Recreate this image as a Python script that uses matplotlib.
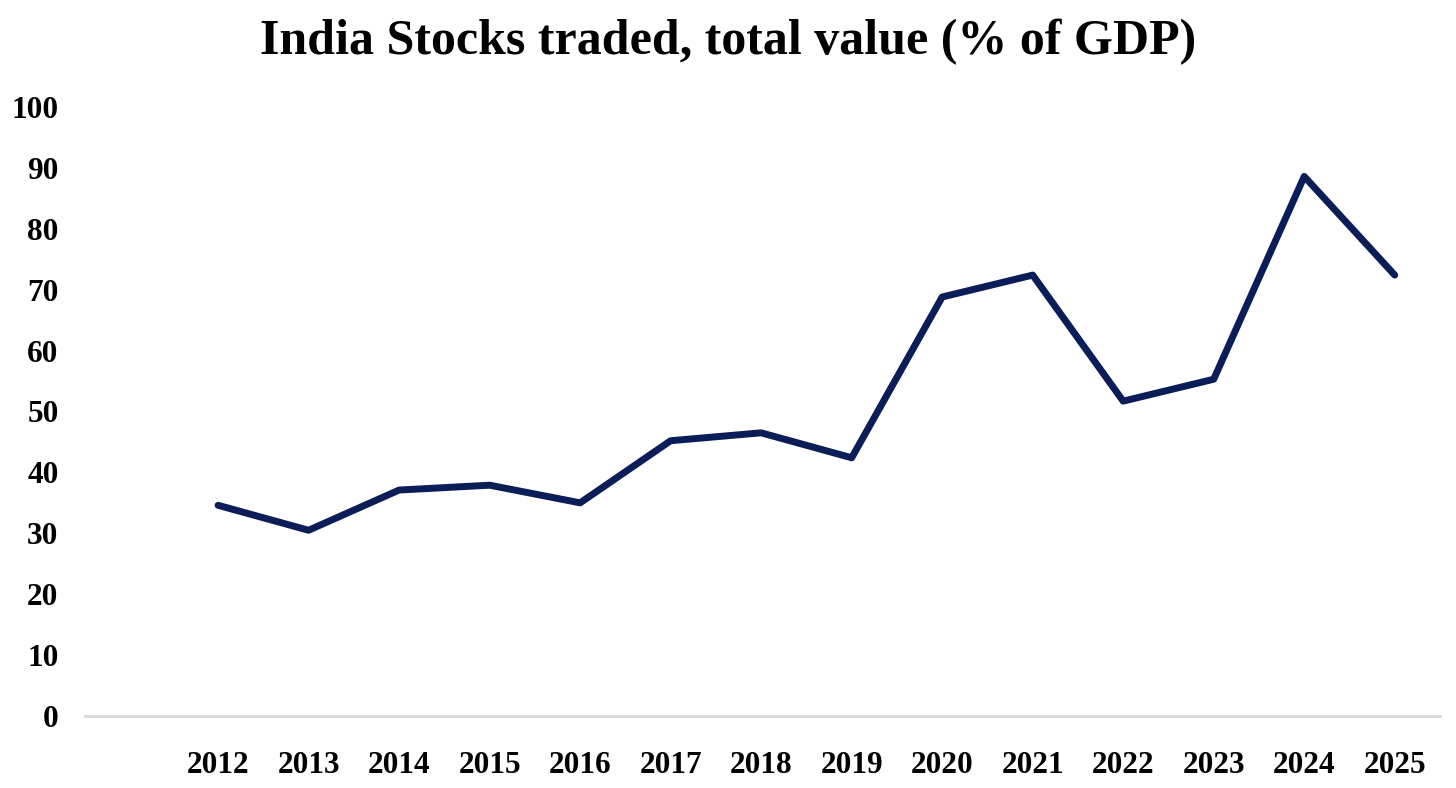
import matplotlib.pyplot as plt

years = ["2012", "2013", "2014", "2015", "2016", "2017", "2018",
         "2019", "2020", "2021", "2022", "2023", "2024", "2025"]
traded_pct_gdp = [34.6, 30.5, 37.1, 37.9, 35.0, 45.2, 46.5,
                  42.4, 68.8, 72.4, 51.7, 55.3, 88.6, 72.4]
y_ticks = [0, 10, 20, 30, 40, 50, 60, 70, 80, 90, 100]

plt.rcParams["font.family"] = ["Liberation Serif", "DejaVu Serif"]

fig = plt.figure(figsize=(14.56, 7.88), dpi=100)
ax = fig.add_axes([85 / 1456, 1 - 716 / 788, (1440 - 85) / 1456, (716 - 107) / 788])

x = list(range(len(years)))
ax.plot(x, traded_pct_gdp, color="#0b1d58", linewidth=5,
        solid_capstyle="round", solid_joinstyle="round")

ax.set_xlim(-1.47, len(years) - 0.5)
ax.set_ylim(0, 100)
ax.set_xticks(x)
ax.set_xticklabels(years)
ax.set_yticks(y_ticks)

for side in ["top", "right", "left"]:
    ax.spines[side].set_visible(False)
ax.spines["bottom"].set_color("#d9d9d9")
ax.spines["bottom"].set_linewidth(2)

ax.tick_params(axis="both", length=0, labelsize=22.5)
ax.tick_params(axis="x", pad=25)
ax.tick_params(axis="y", pad=19)
for lbl in ax.get_xticklabels() + ax.get_yticklabels():
    lbl.set_fontweight("bold")

fig.text(0.5, 1 - 42 / 788, "India Stocks traded, total value (% of GDP)",
         ha="center", va="center", fontsize=36, fontweight="bold")

fig.savefig("out.png", dpi=100, facecolor="white")
